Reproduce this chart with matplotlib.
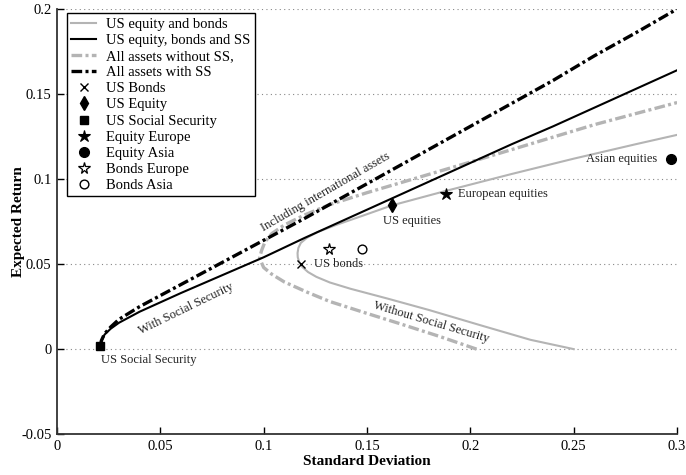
import matplotlib
matplotlib.use("Agg")
import matplotlib.pyplot as plt

plt.rcParams['font.family'] = ['Liberation Serif', 'DejaVu Serif']

# Efficient frontiers: (standard deviation, expected return)
us_eq_bonds_sd = [0.250, 0.229, 0.205, 0.180, 0.160, 0.142, 0.132, 0.1255, 0.1215, 0.1188,
                  0.1172, 0.1165, 0.1164, 0.1168, 0.118, 0.121, 0.126, 0.135, 0.148, 0.162,
                  0.188, 0.220, 0.250, 0.280, 0.300]
us_eq_bonds_ret = [0.000, 0.0055, 0.014, 0.023, 0.0297, 0.0355, 0.0392, 0.0425, 0.0453, 0.0482,
                   0.0512, 0.054, 0.0565, 0.0595, 0.0625, 0.0655, 0.0688, 0.073, 0.0785, 0.0845,
                   0.093, 0.103, 0.112, 0.1205, 0.126]

us_eq_bonds_ss_sd = [0.021, 0.0215, 0.023, 0.026, 0.030, 0.040, 0.050, 0.060, 0.080, 0.100,
                     0.120, 0.140, 0.160, 0.180, 0.200, 0.220, 0.240, 0.260, 0.280, 0.300]
us_eq_bonds_ss_ret = [0.002, 0.0045, 0.0085, 0.012, 0.0155, 0.022, 0.0275, 0.033, 0.0435, 0.054,
                      0.0655, 0.0765, 0.0875, 0.0985, 0.1095, 0.1205, 0.131, 0.142, 0.153, 0.164]

all_no_ss_sd = [0.203, 0.185, 0.1645, 0.150, 0.132, 0.121, 0.110, 0.104, 0.100, 0.098,
                0.099, 0.1006, 0.104, 0.110, 0.120, 0.132, 0.150, 0.175, 0.200, 0.230,
                0.260, 0.300]
all_no_ss_ret = [0.000, 0.0075, 0.0155, 0.021, 0.028, 0.0335, 0.0395, 0.044, 0.048, 0.0535,
                 0.058, 0.063, 0.068, 0.073, 0.079, 0.085, 0.092, 0.101, 0.110, 0.121,
                 0.132, 0.145]

all_ss_sd = [0.021, 0.0215, 0.023, 0.026, 0.030, 0.040, 0.050, 0.060, 0.080, 0.100,
             0.120, 0.140, 0.160, 0.180, 0.200, 0.220, 0.240, 0.260, 0.280, 0.300]
all_ss_ret = [0.002, 0.005, 0.009, 0.013, 0.0175, 0.025, 0.0315, 0.038, 0.051, 0.064,
              0.077, 0.0905, 0.104, 0.1175, 0.131, 0.1445, 0.158, 0.1725, 0.186, 0.200]

# Individual assets
asset_names = ['US Bonds', 'US Equity', 'US Social Security', 'Equity Europe',
               'Equity Asia', 'Bonds Europe', 'Bonds Asia']
asset_sd = [0.118, 0.162, 0.021, 0.188, 0.297, 0.1316, 0.1476]
asset_ret = [0.050, 0.0847, 0.002, 0.091, 0.112, 0.0588, 0.0588]

xticks = [0, 0.05, 0.1, 0.15, 0.2, 0.25, 0.3]
xticklabels = ['0', '0.05', '0.1', '0.15', '0.2', '0.25', '0.3']
yticks = [-0.05, 0, 0.05, 0.1, 0.15, 0.2]
yticklabels = ['-0.05', '0', '0.05', '0.1', '0.15', '0.2']

GRAY = '#b4b4b4'
dashdot = (0, (3.2, 1.0, 0.9, 1.0))

fig = plt.figure(figsize=(6.86, 4.75), dpi=100)
ax = fig.add_axes([0.083, 0.086, 0.904, 0.895])

ax.plot(us_eq_bonds_sd, us_eq_bonds_ret, color=GRAY, lw=1.5, label='US equity and bonds', zorder=3)
ax.plot(us_eq_bonds_ss_sd, us_eq_bonds_ss_ret, color='black', lw=1.5,
        label='US equity, bonds and SS', zorder=4)
ax.plot(all_no_ss_sd, all_no_ss_ret, color=GRAY, lw=2.4, linestyle=dashdot,
        label='All assets without SS,', zorder=3)
ax.plot(all_ss_sd, all_ss_ret, color='black', lw=2.4, linestyle=dashdot,
        label='All assets with SS', zorder=4)

marker_styles = [
    dict(marker='x', ms=6, mew=1.0, mfc='none', mec='black'),
    dict(marker='d', ms=7, mew=1.0, mfc='black', mec='black'),
    dict(marker='s', ms=6, mew=1.0, mfc='black', mec='black'),
    dict(marker='*', ms=9, mew=0.8, mfc='black', mec='black'),
    dict(marker='o', ms=7, mew=1.0, mfc='black', mec='black'),
    dict(marker='*', ms=8.5, mew=0.9, mfc='white', mec='black'),
    dict(marker='o', ms=6.3, mew=1.0, mfc='white', mec='black'),
]
for name, sd, ret, st in zip(asset_names, asset_sd, asset_ret, marker_styles):
    ax.plot([sd], [ret], linestyle='none', label=name, zorder=5, **st)

# Text annotations
tkw = dict(fontsize=9, color='#222222')
ax.text(0.130, 0.0925, 'Including international assets', rotation=30,
        ha='center', va='center', rotation_mode='anchor', **tkw)
ax.text(0.0625, 0.0235, 'With Social Security', rotation=26,
        ha='center', va='center', rotation_mode='anchor', **tkw)
ax.text(0.181, 0.0160, 'Without Social Security', rotation=-16.5,
        ha='center', va='center', rotation_mode='anchor', **tkw)
ax.text(0.0215, -0.0065, 'US Social Security', ha='left', va='center', **tkw)
ax.text(0.1245, 0.0500, 'US bonds', ha='left', va='center', **tkw)
ax.text(0.1575, 0.0755, 'US equities', ha='left', va='center', **tkw)
ax.text(0.194, 0.0910, 'European equities', ha='left', va='center', **tkw)
ax.text(0.2905, 0.1120, 'Asian equities', ha='right', va='center', **tkw)

ax.set_xlim(0, 0.3)
ax.set_ylim(-0.05, 0.2)
ax.set_xticks(xticks)
ax.set_xticklabels(xticklabels)
ax.set_yticks(yticks)
ax.set_yticklabels(yticklabels)
ax.tick_params(direction='in', length=5, width=1, labelsize=10.5, colors='black', pad=4)

for s in ('top', 'right'):
    ax.spines[s].set_visible(False)
for s in ('left', 'bottom'):
    ax.spines[s].set_linewidth(1.3)
    ax.spines[s].set_color('#333333')

for y in yticks[1:]:
    ax.axhline(y, color='#888888', lw=0.8, linestyle=(0, (1, 3)), zorder=1)

ax.set_xlabel('Standard Deviation', fontsize=11, fontweight='bold', labelpad=2)
ax.set_ylabel('Expected Return', fontsize=11, fontweight='bold', labelpad=-3)

leg = ax.legend(loc='upper left', bbox_to_anchor=(0.016, 0.99), fontsize=10.5,
                frameon=True, fancybox=False, edgecolor='black', framealpha=1,
                handlelength=1.7, labelspacing=0.2, borderpad=0.3, handletextpad=0.7,
                borderaxespad=0)
leg.get_frame().set_linewidth(1.0)

fig.savefig('out.png', dpi=100)
